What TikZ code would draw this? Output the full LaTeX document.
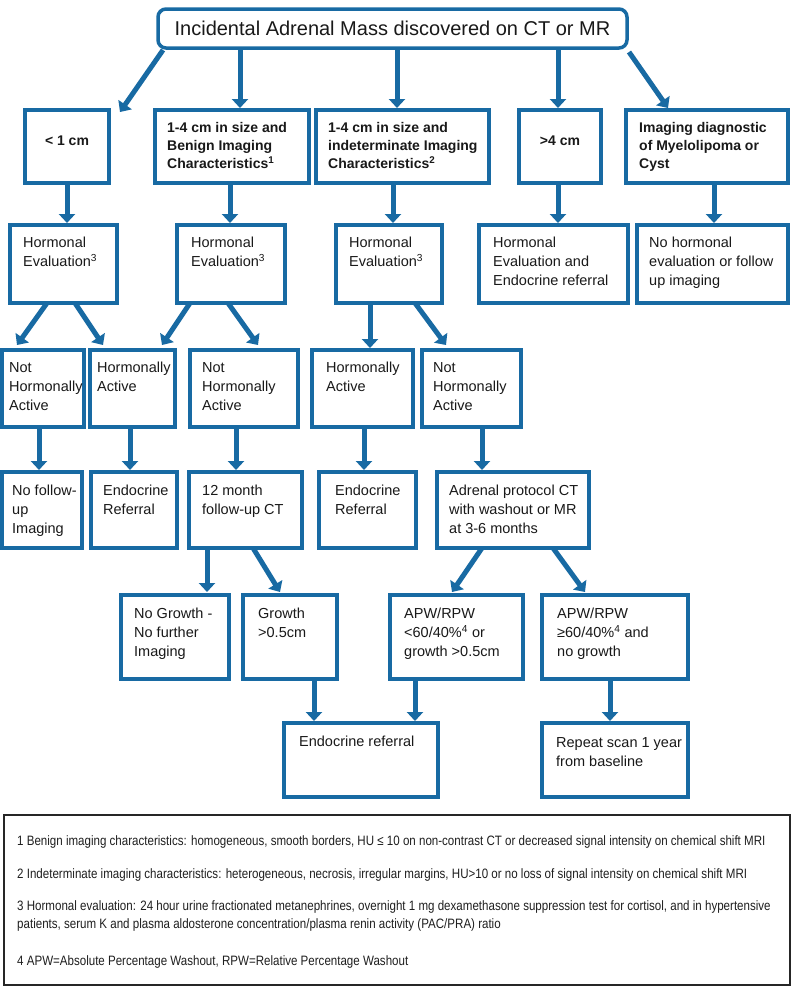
\documentclass[tikz,border=0pt]{standalone}
\usepackage{fontspec}
\setmainfont{Liberation Sans}
\newfontfamily\notefont[FakeStretch=0.85]{Liberation Sans}
\usetikzlibrary{arrows.meta}
\definecolor{fblue}{RGB}{24,106,163}
\tikzset{
  box/.style={draw=fblue, line width=3.5pt, outer sep=0pt, inner sep=0pt, anchor=north west},
  txt/.style={anchor=north west, inner sep=0pt, align=left, text=black!90, font=\fontsize{14.5}{19}\selectfont},
  btxt/.style={anchor=north west, inner sep=0pt, align=left, text=black!90, font=\bfseries\fontsize{14}{18.3}\selectfont},
  note/.style={anchor=base west, inner sep=0pt, text=black!88, font=\notefont\fontsize{13.6}{16}\selectfont},
  arr/.style={draw=fblue, line width=5pt, -{Triangle[width=16pt,length=9pt]}},
}
\newcommand\mkbox[5]{\node[box, minimum width={(#4-#2)*1pt}, minimum height={(#5-#3)*1pt}] (#1) at (#2,#3) {};}
\newcommand\mktxt[5]{\node[#2] (#1t) at ([shift={(#3,#4)}]#1.north west) {#5};}
\begin{document}
\begin{tikzpicture}[x=1pt,y=-1pt]
\path[use as bounding box, fill=white] (0,0) rectangle (800,989);

% top
\node[box, rounded corners=8pt, minimum width=469pt, minimum height=39pt, text=black!90,
      font=\fontsize{20}{24}\selectfont] (top) at (158,9) {Incidental Adrenal Mass discovered on CT or MR};

% boxes
\mkbox{A1}{25}{110}{109}{183}
\mkbox{A2}{155}{110}{309}{183}
\mkbox{A3}{316}{110}{489}{183}
\mkbox{A4}{519}{110}{601}{183}
\mkbox{A5}{626}{110}{788}{183}
\mkbox{B1}{10}{225}{117}{303}
\mkbox{B2}{177}{225}{285}{303}
\mkbox{B3}{336}{225}{442}{303}
\mkbox{B4}{479}{225}{628}{303}
\mkbox{B5}{637}{225}{788}{303}
\mkbox{C1}{2}{350}{84}{427}
\mkbox{C2}{90}{350}{175}{427}
\mkbox{C3}{190}{350}{298}{427}
\mkbox{C4}{312}{350}{413}{427}
\mkbox{C5}{422}{350}{521}{427}
\mkbox{D1}{2}{472}{82}{548}
\mkbox{D2}{91}{472}{177}{548}
\mkbox{D3}{189}{472}{302}{548}
\mkbox{D4}{319}{472}{416}{548}
\mkbox{D5}{437}{472}{589}{548}
\mkbox{E1}{121}{595}{229}{679}
\mkbox{E2}{243}{595}{337}{679}
\mkbox{E3}{390}{595}{523}{679}
\mkbox{E4}{542}{595}{688}{679}
\mkbox{F1}{284}{723}{438}{797}
\mkbox{F2}{542}{723}{688}{797}

% texts
\node[btxt, anchor=base] (A1t) at ([shift={(0,35)}]A1.north) {< 1 cm};
\node[btxt, anchor=base] (A4t) at ([shift={(0,35)}]A4.north) {>4 cm};
\mktxt{A2}{btxt}{12}{12}{1-4 cm in size and\\Benign Imaging\\Characteristics\textsuperscript{1}}
\mktxt{A3}{btxt}{12}{12}{1-4 cm in size and\\indeterminate Imaging\\Characteristics\textsuperscript{2}}
\mktxt{A5}{btxt}{13}{12}{Imaging diagnostic\\of Myelolipoma or\\Cyst}
\mktxt{B1}{txt}{13}{12}{Hormonal\\Evaluation\textsuperscript{3}}
\mktxt{B2}{txt}{14}{12}{Hormonal\\Evaluation\textsuperscript{3}}
\mktxt{B3}{txt}{13}{12}{Hormonal\\Evaluation\textsuperscript{3}}
\mktxt{B4}{txt}{14}{12}{Hormonal\\Evaluation and\\Endocrine referral}
\mktxt{B5}{txt}{12}{12}{No hormonal\\evaluation or follow\\up imaging}
\mktxt{C1}{txt}{7}{12}{Not\\Hormonally\\Active}
\mktxt{C2}{txt}{7}{12}{Hormonally\\Active}
\mktxt{C3}{txt}{12}{12}{Not\\Hormonally\\Active}
\mktxt{C4}{txt}{14}{12}{Hormonally\\Active}
\mktxt{C5}{txt}{11}{12}{Not\\Hormonally\\Active}
\mktxt{D1}{txt}{10}{13}{No follow-\\up\\Imaging}
\mktxt{D2}{txt}{12}{13}{Endocrine\\Referral}
\mktxt{D3}{txt}{13}{13}{12 month\\follow-up CT}
\mktxt{D4}{txt}{16}{13}{Endocrine\\Referral}
\mktxt{D5}{txt}{12}{13}{Adrenal protocol CT\\with washout or MR\\at 3-6 months}
\mktxt{E1}{txt}{13}{13}{No Growth -\\No further\\Imaging}
\mktxt{E2}{txt}{15}{13}{Growth\\>0.5cm}
\mktxt{E3}{txt}{14}{13}{APW/RPW\\<60/40\%\textsuperscript{4} or\\growth >0.5cm}
\mktxt{E4}{txt}{15}{13}{APW/RPW\\≥60/40\%\textsuperscript{4} and\\no growth}
\mktxt{F1}{txt}{15}{13}{Endocrine referral}
\mktxt{F2}{txt}{14}{14}{Repeat scan 1 year\\from baseline}

% arrows
\draw[arr] ([shift={(5,2)}]top.south west) -- ([shift={(11,2)}]A1.north east);
\draw[arr] ([shift={(82,0)}]top.south west) -- ([shift={(85,-2)}]A2.north west);
\draw[arr] ([shift={(239,0)}]top.south west) -- ([shift={(81,-2)}]A3.north west);
\draw[arr] ([shift={(400,0)}]top.south west) -- ([shift={(39,-2)}]A4.north west);
\draw[arr] ([shift={(2,4)}]top.south east) -- ([shift={(42,-2)}]A5.north west);

\draw[arr] ([shift={(42,0)}]A1.south west) -- ([shift={(57,-2)}]B1.north west);
\draw[arr] ([shift={(75,0)}]A2.south west) -- ([shift={(53,-2)}]B2.north west);
\draw[arr] ([shift={(77,0)}]A3.south west) -- ([shift={(57,-2)}]B3.north west);
\draw[arr] ([shift={(39,0)}]A4.south west) -- ([shift={(79,-2)}]B4.north west);
\draw[arr] ([shift={(88,0)}]A5.south west) -- ([shift={(77,-2)}]B5.north west);

\draw[arr] ([shift={(37,0)}]B1.south west) -- ([shift={(15,-5)}]C1.north west);
\draw[arr] ([shift={(65,0)}]B1.south west) -- ([shift={(13,-5)}]C2.north west);
\draw[arr] ([shift={(13,0)}]B2.south west) -- ([shift={(72,-5)}]C2.north west);
\draw[arr] ([shift={(51,0)}]B2.south west) -- ([shift={(68,-5)}]C3.north west);
\draw[arr] ([shift={(34,0)}]B3.south west) -- ([shift={(58,-2)}]C4.north west);
\draw[arr] ([shift={(79,0)}]B3.south west) -- ([shift={(24,-5)}]C5.north west);

\draw[arr] ([shift={(37,0)}]C1.south west) -- ([shift={(37,-2)}]D1.north west);
\draw[arr] ([shift={(40,0)}]C2.south west) -- ([shift={(39,-2)}]D2.north west);
\draw[arr] ([shift={(46,0)}]C3.south west) -- ([shift={(47,-2)}]D3.north west);
\draw[arr] ([shift={(52,0)}]C4.south west) -- ([shift={(45,-2)}]D4.north west);
\draw[arr] ([shift={(60,0)}]C5.south west) -- ([shift={(45,-2)}]D5.north west);

\draw[arr] ([shift={(18,0)}]D3.south west) -- ([shift={(86,-3)}]E1.north west);
\draw[arr] ([shift={(64,0)}]D3.south west) -- ([shift={(37,-3)}]E2.north west);
\draw[arr] ([shift={(45,0)}]D5.south west) -- ([shift={(62,-3)}]E3.north west);
\draw[arr] ([shift={(116,0)}]D5.south west) -- ([shift={(43,-3)}]E4.north west);

\draw[arr] ([shift={(71,0)}]E2.south west) -- ([shift={(30,-2)}]F1.north west);
\draw[arr] ([shift={(25,0)}]E3.south west) -- ([shift={(131,-2)}]F1.north west);
\draw[arr] ([shift={(68,0)}]E4.south west) -- ([shift={(68,-2)}]F2.north west);

% footnotes
\node[draw=black!85, line width=1.6pt, outer sep=0pt, inner sep=0pt, anchor=north west,
      minimum width=786pt, minimum height=170pt] (notes) at (4,815) {};
\node[note] (n1) at ([shift={(13,30)}]notes.north west) {1 Benign imaging characteristics: homogeneous, smooth borders, HU ≤ 10 on non-contrast CT or decreased signal intensity on chemical shift MRI};
\node[note] (n2) at ([shift={(13,63)}]notes.north west) {2 Indeterminate imaging characteristics: heterogeneous, necrosis, irregular margins, HU>10 or no loss of signal intensity on chemical shift MRI};
\node[note] (n3) at ([shift={(13,95)}]notes.north west) {3 Hormonal evaluation: 24 hour urine fractionated metanephrines, overnight 1 mg dexamethasone suppression test for cortisol, and in hypertensive};
\node[note] (n3b) at ([shift={(13,113)}]notes.north west) {patients, serum K and plasma aldosterone concentration/plasma renin activity (PAC/PRA) ratio};
\node[note] (n4) at ([shift={(13,150)}]notes.north west) {4 APW=Absolute Percentage Washout, RPW=Relative Percentage Washout};
\end{tikzpicture}
\end{document}
